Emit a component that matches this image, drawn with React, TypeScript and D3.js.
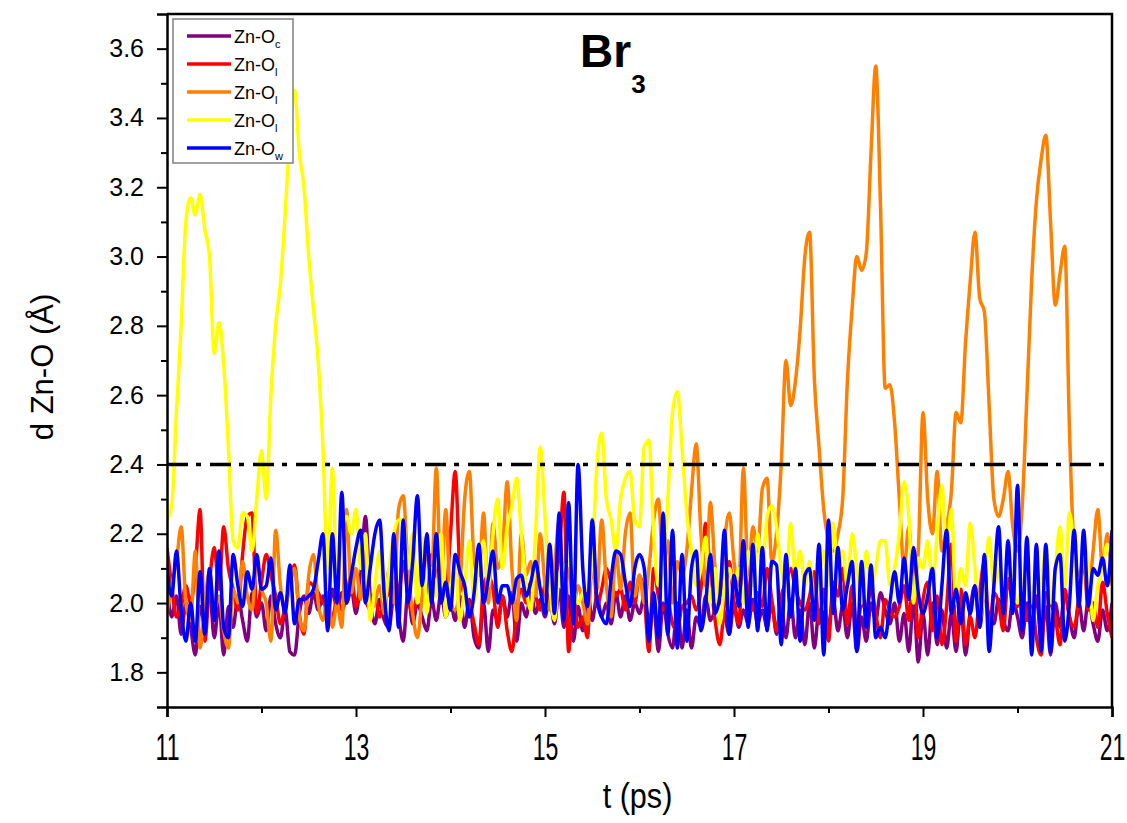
import React, { useEffect, useRef } from 'react';
import * as d3 from 'd3';

// time axis: samples every 0.05 ps starting at 11 ps
const T0 = 11;
const DT = 0.05;

const xTicks = [11, 13, 15, 17, 19, 21];
const xMinor = [12, 14, 16, 18, 20];
const yTicks = [1.8, 2.0, 2.2, 2.4, 2.6, 2.8, 3.0, 3.2, 3.4, 3.6];
const yMinor = [1.9, 2.1, 2.3, 2.5, 2.7, 2.9, 3.1, 3.3, 3.5];
const cutoff = 2.4;

const labels = ['c', 'l', 'l', 'l', 'w'];
const colors = ['#800080', '#ff0000', '#ff8000', '#ffff00', '#0000ff'];

// Zn-O_c (purple)
const znOc = [
  2.05, 1.96, 2.02, 1.91, 2.00, 1.93, 1.85, 1.99, 1.94, 2.04,
  1.90, 2.00, 1.85, 1.99, 1.93, 2.02, 1.95, 1.89, 2.03, 1.96,
  2.00, 1.92, 2.02, 1.94, 1.90, 1.98, 1.86, 1.85, 1.97, 2.02,
  1.97, 2.03, 1.98, 2.02, 1.96, 2.04, 1.98, 2.03, 2.00, 2.04,
  1.97, 2.08, 2.25, 2.02, 1.94, 2.01, 1.95, 1.93, 2.02, 1.96,
  1.89, 2.03, 1.94, 2.00, 1.96, 1.92, 2.01, 1.95, 2.03, 1.96,
  2.00, 1.95, 2.02, 1.93, 2.01, 1.90, 1.87, 2.00, 1.86, 1.98,
  1.95, 2.02, 1.96, 2.03, 1.89, 2.00, 1.96, 2.03, 1.97, 2.01,
  1.96, 2.02, 1.94, 2.04, 1.93, 2.02, 1.89, 1.99, 1.92, 2.04,
  1.95, 2.02, 1.96, 2.00, 1.94, 2.03, 1.96, 2.02, 1.95, 2.00,
  1.97, 2.02, 1.95, 1.99, 1.86, 2.00, 1.91, 1.87, 2.00, 1.87,
  1.98, 1.87, 1.96, 1.93, 2.02, 1.95, 1.98, 2.01, 1.97, 1.91,
  2.00, 1.93, 1.98, 1.94, 2.01, 1.94, 1.98, 1.93, 2.00, 1.91,
  1.99, 1.90, 2.01, 1.90, 1.98, 1.88, 2.00, 1.87, 1.98, 1.97,
  1.94, 2.01, 1.92, 1.99, 1.90, 2.00, 1.86, 1.96, 1.89, 2.00,
  1.95, 2.03, 1.98, 1.94, 2.00, 1.89, 1.97, 1.86, 2.01, 1.83,
  1.97, 1.85, 2.00, 1.88, 1.98, 1.87, 1.97, 1.86, 1.99, 1.85,
  1.98, 2.05, 1.93, 2.03, 1.96, 1.94, 2.01, 1.95, 1.92, 2.01,
  1.96, 1.90, 2.00, 1.93, 2.02, 1.90, 1.99, 1.85, 2.00, 1.93,
  2.03, 1.96, 1.90, 2.00, 1.92, 2.01, 1.94, 1.89, 1.98, 1.92,
  2.00,
];

// Zn-O_l (red)
const znOl1 = [
  2.16, 2.05, 1.96, 1.99, 2.05, 2.00, 2.10, 2.27, 1.89, 2.06,
  2.16, 2.04, 2.22, 2.10, 2.04, 1.98, 2.14, 2.25, 2.26, 1.97,
  2.06, 2.14, 2.08, 2.02, 1.94, 1.99, 2.05, 2.11, 1.97, 1.91,
  2.06, 2.05, 2.03, 2.00, 1.99, 1.96, 2.01, 1.98, 2.02, 2.08,
  1.99, 2.05, 2.01, 1.98, 2.03, 1.96, 2.01, 2.03, 2.14, 2.02,
  2.12, 2.02, 1.97, 2.03, 2.09, 2.00, 2.14, 2.08, 2.05, 2.02,
  2.20, 2.38, 2.09, 2.02, 2.00, 1.94, 1.88, 2.05, 2.08, 2.04,
  1.93, 2.02, 1.92, 1.86, 1.98, 2.04, 2.00, 2.06, 2.02, 1.98,
  2.05, 2.00, 2.06, 2.14, 2.32, 1.86, 2.02, 1.93, 1.96, 1.90,
  2.22, 1.99, 2.04, 2.10, 2.06, 2.02, 2.04, 1.98, 2.06, 2.00,
  2.08, 2.02, 1.86, 2.10, 2.02, 1.98, 2.00, 1.94, 1.92, 1.99,
  2.00, 2.02, 1.98, 2.04, 2.23, 2.08, 1.95, 1.88, 2.00, 2.12,
  2.00, 1.94, 2.15, 2.03, 1.98, 2.03, 1.99, 2.10, 2.01, 1.92,
  2.02, 2.06, 2.10, 2.04, 2.00, 1.98, 2.02, 2.09, 1.94, 2.04,
  1.89, 2.06, 2.02, 2.10, 1.94, 2.05, 1.92, 2.00, 1.98, 2.04,
  1.97, 1.90, 2.01, 1.98, 1.96, 1.99, 2.05, 1.95, 2.14, 1.90,
  2.01, 2.06, 1.92, 2.02, 1.88, 1.99, 2.17, 1.89, 2.04, 1.88,
  1.96, 1.90, 2.03, 2.12, 1.91, 2.03, 2.00, 1.92, 2.07, 2.00,
  1.99, 2.03, 1.95, 2.01, 1.90, 1.85, 2.03, 2.00, 1.96, 1.88,
  2.04, 1.96, 1.93, 2.02, 2.12, 1.98, 2.00, 1.93, 2.06, 1.97,
  1.90,
];

// Zn-O_l (orange)
const znOl2 = [
  1.97, 2.05, 2.12, 2.22, 2.00, 1.95, 2.15, 1.87, 2.00, 2.09,
  1.98, 2.02, 1.92, 1.87, 2.04, 2.00, 2.12, 2.02, 1.98, 2.12,
  2.04, 2.00, 1.89, 2.21, 2.05, 1.98, 2.06, 2.10, 1.96, 1.92,
  2.08, 2.14, 2.00, 1.95, 2.03, 1.93, 2.00, 1.93, 2.27, 2.03,
  2.10, 2.01, 2.15, 1.98, 2.00, 2.05, 1.97, 2.10, 2.00, 2.27,
  2.31, 2.10, 1.97, 1.90, 2.02, 2.15, 2.08, 2.39, 2.05, 2.27,
  2.00, 1.98, 2.05, 2.30, 2.38, 2.12, 2.08, 2.26, 2.00, 2.23,
  2.10, 2.15, 2.35, 2.10, 1.95, 2.20, 2.08, 2.12, 2.02, 2.20,
  2.05, 1.98, 2.10, 2.24, 2.02, 2.10, 1.99, 2.05, 2.00, 1.94,
  2.10, 2.04, 2.24, 2.05, 1.96, 2.15, 2.04, 2.20, 2.26, 2.02,
  2.08, 2.00, 2.10, 2.24, 2.30, 2.10, 2.18, 2.00, 2.12, 2.08,
  2.15, 2.32, 2.46, 2.20, 2.05, 2.29, 2.10, 2.02, 2.18, 2.26,
  2.12, 2.05, 2.39, 2.08, 2.22, 2.15, 2.33, 2.36, 2.12, 2.20,
  2.40, 2.70, 2.57, 2.64, 2.79, 3.00, 3.07, 2.65, 2.45, 2.27,
  2.18, 2.15, 2.20, 2.30, 2.64, 2.85, 3.00, 2.96, 3.01, 3.30,
  3.55, 3.15, 2.62, 2.63, 2.52, 2.30, 2.10, 2.22, 2.05, 2.15,
  2.55, 2.30, 2.20, 2.38, 2.15, 2.22, 2.32, 2.55, 2.52, 2.75,
  2.93, 3.07, 2.88, 2.84, 2.57, 2.30, 2.25, 2.30, 2.38, 2.22,
  2.15, 2.28, 2.60, 2.93, 3.16, 3.28, 3.35, 3.10, 2.86, 2.95,
  3.03, 2.50, 2.15, 2.08, 2.12, 2.02, 2.15, 2.27, 2.10, 2.20,
  2.05,
];

// Zn-O_l (yellow)
const znOl3 = [
  2.24, 2.28, 2.55, 2.80, 3.10, 3.17, 3.12, 3.18, 3.08, 3.00,
  2.72, 2.81, 2.69, 2.45, 2.18, 2.16, 2.26, 2.25, 2.15, 2.30,
  2.44, 2.30, 2.60, 2.80, 2.92, 3.12, 3.35, 3.48, 3.30, 3.20,
  3.00, 2.85, 2.70, 2.45, 2.10, 2.39, 2.05, 2.21, 2.25, 2.20,
  2.27, 2.10, 2.20, 1.95, 2.05, 2.15, 2.00, 2.10, 2.20, 2.24,
  2.24, 2.10, 2.20, 2.00, 2.19, 1.97, 2.10, 2.02, 2.20, 1.96,
  2.05, 2.10, 1.95, 2.05, 2.18, 2.00, 2.12, 2.18, 2.05, 2.20,
  2.30, 2.10, 2.22, 2.28, 2.36, 2.20, 2.05, 1.98, 2.20, 2.45,
  2.25, 2.05, 1.95, 2.08, 2.10, 2.12, 2.05, 2.00, 2.03, 2.04,
  2.13, 2.40, 2.49, 2.30, 2.24, 2.15, 2.30, 2.36, 2.38, 2.24,
  2.22, 2.45, 2.47, 2.20, 2.05, 2.10, 2.30, 2.55, 2.61, 2.45,
  2.26, 2.15, 2.05, 2.10, 2.19, 2.00, 2.10, 1.94, 2.05, 2.10,
  2.05, 2.10, 2.00, 2.15, 2.05, 2.20, 2.10, 2.25, 2.28, 2.22,
  2.10, 2.05, 2.23, 2.08, 2.15, 2.05, 2.12, 2.00, 2.08, 2.15,
  2.05, 2.23, 2.10, 2.15, 2.05, 2.20, 2.10, 2.00, 2.15, 2.05,
  2.10, 2.18, 2.18, 2.05, 2.10, 2.20, 2.35, 2.25, 2.00, 2.13,
  2.10, 2.18, 2.05, 2.20, 2.34, 2.15, 2.27, 2.00, 2.10, 2.05,
  2.23, 2.10, 1.95, 2.05, 2.19, 2.05, 2.10, 2.00, 2.15, 2.05,
  2.00, 2.05, 2.10, 2.00, 2.10, 2.05, 2.17, 2.00, 2.10, 2.22,
  2.05, 2.26, 2.15, 2.00, 2.18, 2.10, 1.95, 2.05, 2.10, 2.17,
  2.12,
];

// Zn-O_w (blue)
const znOw = [
  2.10, 2.02, 2.15, 1.98, 1.89, 2.00, 1.89, 2.09, 1.91, 2.10,
  1.95, 2.15, 1.93, 1.90, 2.14, 2.05, 1.99, 2.09, 2.04, 2.14,
  2.04, 2.05, 2.13, 1.98, 2.03, 1.97, 2.11, 1.94, 2.01, 2.01,
  2.02, 2.04, 2.12, 2.20, 1.92, 2.20, 2.00, 2.32, 2.00, 2.08,
  2.16, 2.21, 2.00, 2.10, 2.20, 2.24, 2.02, 1.92, 2.20, 1.93,
  2.24, 2.00, 2.12, 2.31, 2.05, 2.20, 2.00, 2.20, 2.00, 2.06,
  1.98, 2.14, 2.09, 2.05, 1.96, 2.03, 2.17, 2.00, 2.07, 2.15,
  2.00, 2.05, 2.05, 2.00, 2.07, 2.08, 2.02, 2.06, 2.12, 2.04,
  1.97, 2.17, 1.97, 2.26, 1.95, 2.29, 1.94, 2.40, 2.10, 1.99,
  2.24, 2.01, 1.96, 1.94, 2.07, 2.15, 2.14, 2.06, 1.99, 2.10,
  2.14, 2.10, 1.89, 2.03, 1.90, 2.26, 1.91, 2.21, 1.87, 2.14,
  1.89, 2.10, 2.15, 1.92, 2.00, 2.14, 1.97, 2.02, 2.21, 1.91,
  2.08, 1.99, 2.18, 1.93, 2.17, 1.92, 2.16, 1.92, 2.12, 2.11,
  1.88, 2.14, 1.96, 2.10, 1.89, 2.08, 2.10, 1.95, 2.17, 1.85,
  2.24, 1.97, 2.16, 1.98, 2.05, 2.12, 1.86, 2.12, 1.93, 2.11,
  1.90, 1.93, 1.90, 2.00, 2.09, 2.00, 2.13, 2.01, 2.16, 2.03,
  1.97, 2.02, 2.10, 1.90, 2.05, 2.21, 1.97, 2.04, 1.94, 2.03,
  1.97, 2.05, 1.93, 2.14, 1.86, 2.05, 2.22, 1.97, 2.18, 1.97,
  2.34, 1.92, 2.19, 1.85, 2.17, 1.86, 2.17, 1.86, 2.10, 2.14,
  1.89, 2.00, 2.21, 1.99, 2.21, 1.99, 2.10, 2.08, 2.13, 2.05,
  2.21,
];

const seriesList = [znOc, znOl1, znOl2, znOl3, znOw];

const SANS = '"Liberation Sans", Arial, sans-serif';

export default function App() {
  const ref = useRef<SVGSVGElement>(null);

  useEffect(() => {
    const left = 167, right = 1112, top = 14, bottom = 707;
    const svg = d3.select(ref.current);
    svg.selectAll('*').remove();

    const x = d3.scaleLinear().domain([11, 21]).range([left, right]);
    const y = d3.scaleLinear().domain([1.7, 3.7]).range([bottom, top]);

    svg.append('clipPath').attr('id', 'plotclip')
      .append('rect').attr('x', left).attr('y', top)
      .attr('width', right - left).attr('height', bottom - top);

    const line = d3.line<number>()
      .x((d, i) => x(T0 + i * DT))
      .y((d) => y(d))
      .curve(d3.curveMonotoneX);

    const plot = svg.append('g').attr('clip-path', 'url(#plotclip)');
    seriesList.forEach((s, k) => {
      plot.append('path')
        .attr('d', line(s))
        .attr('fill', 'none')
        .attr('stroke', colors[k])
        .attr('stroke-width', 3.5)
        .attr('stroke-linejoin', 'round');
    });

    // 2.4 A cutoff
    svg.append('line')
      .attr('x1', left).attr('x2', right)
      .attr('y1', y(cutoff)).attr('y2', y(cutoff))
      .attr('stroke', '#000')
      .attr('stroke-width', 3.5)
      .attr('stroke-dasharray', '21 8 5 9');

    // axes
    const gx = svg.append('g').attr('transform', `translate(0,${bottom})`)
      .call(d3.axisBottom(x).tickValues(xTicks).tickSize(10).tickPadding(17).tickFormat(d3.format('d')));
    gx.selectAll('text')
      .attr('font-family', SANS)
      .attr('font-size', 36)
      .attr('transform', 'scale(0.64,1)')
      .attr('fill', '#000');
    svg.append('g').attr('transform', `translate(0,${bottom})`)
      .call(d3.axisBottom(x).tickValues(xMinor).tickSize(6).tickFormat(() => ''))
      .call((g) => g.select('.domain').remove());

    const gy = svg.append('g').attr('transform', `translate(${left},0)`)
      .call(d3.axisLeft(y).tickValues(yTicks).tickSize(10).tickPadding(13).tickFormat(d3.format('.1f')));
    gy.selectAll('text')
      .attr('font-family', SANS)
      .attr('font-size', 25)
      .attr('fill', '#000');
    svg.append('g').attr('transform', `translate(${left},0)`)
      .call(d3.axisLeft(y).tickValues(yMinor).tickSize(6).tickFormat(() => ''))
      .call((g) => g.select('.domain').remove());

    svg.selectAll('.domain').attr('stroke-width', 2.5).attr('stroke', '#000');
    svg.selectAll('.tick line').attr('stroke-width', 2).attr('stroke', '#000');

    // frame top/right
    svg.append('path')
      .attr('d', `M${left},${top}H${right}V${bottom}`)
      .attr('fill', 'none')
      .attr('stroke', '#000')
      .attr('stroke-width', 2.5);

    // axis titles
    svg.append('text')
      .attr('transform', `translate(${(left + right) / 2 - 2},808) scale(0.85,1)`)
      .attr('text-anchor', 'middle')
      .attr('font-family', SANS)
      .attr('font-size', 36)
      .text('t (ps)');
    svg.append('text')
      .attr('transform', `translate(53,367) rotate(-90)`)
      .attr('text-anchor', 'middle')
      .attr('font-family', SANS)
      .attr('font-size', 31)
      .text('d Zn-O (Å)');

    // title
    const tt = svg.append('text')
      .attr('x', 580).attr('y', 67)
      .attr('font-family', SANS)
      .attr('font-weight', 'bold')
      .attr('font-size', 46);
    tt.append('tspan').text('Br');
    tt.append('tspan').attr('dy', 26).attr('font-size', 26).text('3');

    // legend
    const lg = svg.append('g');
    lg.append('rect')
      .attr('x', 173).attr('y', 19)
      .attr('width', 120).attr('height', 144)
      .attr('fill', '#fff')
      .attr('stroke', '#808080')
      .attr('stroke-width', 1.5);
    labels.forEach((sub, k) => {
      const yy = 36 + k * 28;
      lg.append('line')
        .attr('x1', 187).attr('x2', 231)
        .attr('y1', yy).attr('y2', yy)
        .attr('stroke', colors[k])
        .attr('stroke-width', 3.5);
      const t = lg.append('text')
        .attr('x', 234).attr('y', yy + 7)
        .attr('font-family', SANS)
        .attr('font-size', 18);
      t.append('tspan').text('Zn-O');
      t.append('tspan').attr('dy', 5).attr('font-size', 11).text(sub);
    });
  }, []);

  return (
    <svg
      ref={ref}
      width={1127}
      height={823}
      style={{ position: 'absolute', left: 0, top: 0, background: '#fff' }}
    />
  );
}
